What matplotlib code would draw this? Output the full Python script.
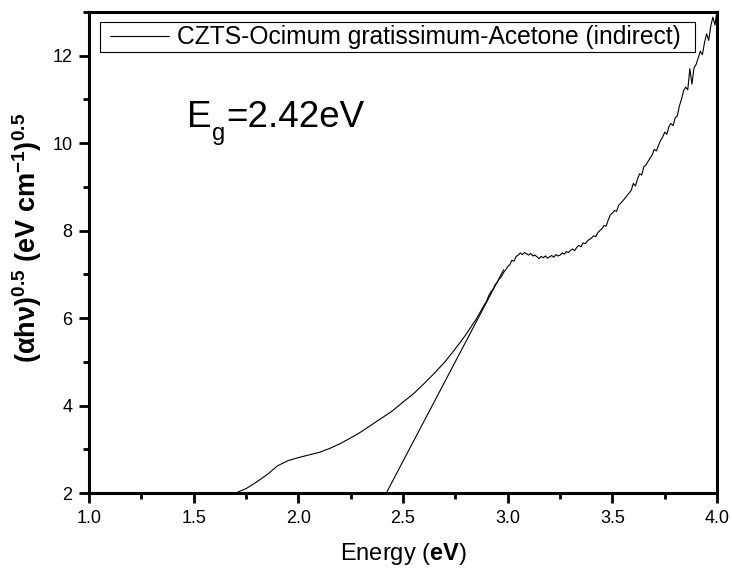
import matplotlib
matplotlib.use("Agg")
import matplotlib.pyplot as plt
from matplotlib.ticker import MultipleLocator, FormatStrFormatter
from matplotlib.patches import Rectangle
from matplotlib.transforms import IdentityTransform

plt.rcParams['font.family'] = ['Liberation Sans', 'DejaVu Sans']
plt.rcParams['mathtext.fontset'] = 'custom'
plt.rcParams['mathtext.rm'] = 'Liberation Sans'
plt.rcParams['mathtext.it'] = 'Liberation Sans:italic'
plt.rcParams['mathtext.bf'] = 'Liberation Sans:bold'

# Tauc plot, (alpha h nu)^0.5 against photon energy
energy = [1.60, 1.65, 1.70, 1.75, 1.80, 1.85, 1.90, 1.95, 2.00, 2.05,
          2.10, 2.15, 2.20, 2.25, 2.30, 2.35, 2.40, 2.45, 2.50, 2.55,
          2.60, 2.65, 2.70, 2.75, 2.80, 2.85, 2.90,
          2.91, 2.92, 2.93, 2.94, 2.95, 2.96, 2.97, 2.98, 2.99, 3.00,
          3.01, 3.02, 3.03, 3.04, 3.05, 3.06, 3.07, 3.08, 3.09, 3.10,
          3.11, 3.12, 3.13, 3.14, 3.15, 3.16, 3.17, 3.18, 3.19, 3.20,
          3.21, 3.22, 3.23, 3.24, 3.25, 3.26, 3.27, 3.28, 3.29, 3.30,
          3.31, 3.32, 3.33, 3.34, 3.35, 3.36, 3.37, 3.38, 3.39, 3.40,
          3.41, 3.42, 3.43, 3.44, 3.45, 3.46, 3.47, 3.48, 3.49, 3.50,
          3.51, 3.52, 3.53, 3.54, 3.55, 3.56, 3.57, 3.58, 3.59, 3.60,
          3.61, 3.62, 3.63, 3.64, 3.65, 3.66, 3.67, 3.68, 3.69, 3.70,
          3.71, 3.72, 3.73, 3.74, 3.75, 3.76, 3.77, 3.78, 3.79, 3.80,
          3.81, 3.82, 3.83, 3.84, 3.85, 3.86, 3.87, 3.88, 3.89, 3.90,
          3.91, 3.92, 3.93, 3.94, 3.95, 3.96, 3.97, 3.98, 3.99, 4.00]
tauc = [1.75, 1.88, 2.00, 2.10, 2.25, 2.42, 2.62, 2.74, 2.81, 2.87,
        2.93, 3.02, 3.13, 3.26, 3.40, 3.56, 3.72, 3.88, 4.08, 4.27,
        4.50, 4.74, 5.00, 5.30, 5.62, 5.98, 6.40,
        6.52, 6.60, 6.66, 6.76, 6.82, 6.90, 6.95, 7.04, 7.10, 7.18,
        7.22, 7.32, 7.30, 7.41, 7.44, 7.49, 7.45, 7.50, 7.47, 7.44,
        7.48, 7.42, 7.44, 7.40, 7.36, 7.41, 7.38, 7.42, 7.37, 7.40,
        7.43, 7.39, 7.45, 7.42, 7.44, 7.49, 7.46, 7.52, 7.50, 7.55,
        7.58, 7.54, 7.62, 7.66, 7.63, 7.72, 7.70, 7.76, 7.80, 7.83,
        7.88, 7.86, 7.95, 8.00, 8.04, 8.12, 8.10, 8.24, 8.36, 8.40,
        8.46, 8.44, 8.58, 8.63, 8.68, 8.74, 8.80, 8.86, 8.92, 9.08,
        9.02, 9.18, 9.30, 9.27, 9.46, 9.50, 9.58, 9.66, 9.73, 9.86,
        9.82, 9.95, 10.06, 10.14, 10.25, 10.20, 10.38, 10.45, 10.40, 10.58,
        10.62, 10.85, 11.00, 11.20, 11.28, 11.22, 11.70, 11.35, 11.72, 11.80,
        11.95, 12.10, 12.02, 12.30, 12.50, 12.35, 12.68, 12.88, 12.70, 13.05]

# linear extrapolation of the absorption edge to the energy axis
fit_x = [2.42, 2.98]
fit_y = [2.00, 7.10]
band_gap = 2.42

fig = plt.figure(figsize=(7.32, 5.68), dpi=100)
ax = fig.add_axes([0.1216, 0.132, 0.858, 0.847])

ax.plot(energy, tauc, color='black', lw=0.8,
        label='CZTS-Ocimum gratissimum-Acetone (indirect)')
ax.plot(fit_x, fit_y, color='black', lw=0.8)

ax.set_xlim(1.0, 4.0)
ax.set_ylim(2, 13)
ax.xaxis.set_major_locator(MultipleLocator(0.5))
ax.xaxis.set_minor_locator(MultipleLocator(0.25))
ax.yaxis.set_major_locator(MultipleLocator(2))
ax.yaxis.set_minor_locator(MultipleLocator(1))
ax.xaxis.set_major_formatter(FormatStrFormatter('%.1f'))

for s in ax.spines.values():
    s.set_linewidth(2.2)
ax.tick_params(which='major', direction='out', length=7.5, width=2,
               labelsize=13, top=False, right=False)
ax.tick_params(which='minor', direction='out', length=4, width=2,
               top=False, right=False)
ax.tick_params(axis='x', which='major', pad=5)
ax.tick_params(axis='y', which='major', pad=4.5)

ax.set_xlabel('Energy ($\\mathbf{eV}$)', fontsize=17, labelpad=10)
ax.set_ylabel(r'$\mathbf{(\alpha h\nu)^{0.5}\ (eV\ cm^{-1})^{0.5}}$',
              fontsize=19.5)
ax.yaxis.set_label_coords(-0.072, 0.53)

# E_g annotation, subscript set well below the baseline
eg_x, eg_y = 1.468, 10.38
ax.annotate('E', (eg_x, eg_y), fontsize=26.5, va='baseline', ha='left')
ax.annotate('g', (eg_x, eg_y), xytext=(18.2, -10), textcoords='offset points',
            fontsize=17, va='baseline', ha='left')
ax.annotate('=%.2feV' % band_gap, (eg_x, eg_y), xytext=(28, 0),
            textcoords='offset points', fontsize=26.5, va='baseline', ha='left')

leg = ax.legend(loc='upper left', bbox_to_anchor=(0.0334, 0.972),
                borderaxespad=0, borderpad=0, fontsize=17.7, frameon=False,
                handlelength=2.4, handletextpad=0.33)

# legend frame with wider side margins than top/bottom
fig.canvas.draw()
bb = leg.get_window_extent()
frame = Rectangle((bb.x0 - 10, bb.y0 - 3), bb.width + 24, bb.height + 6,
                  transform=IdentityTransform(), fill=False,
                  edgecolor='black', lw=0.8)
fig.add_artist(frame)

fig.savefig('out.png', dpi=100, facecolor='white')
